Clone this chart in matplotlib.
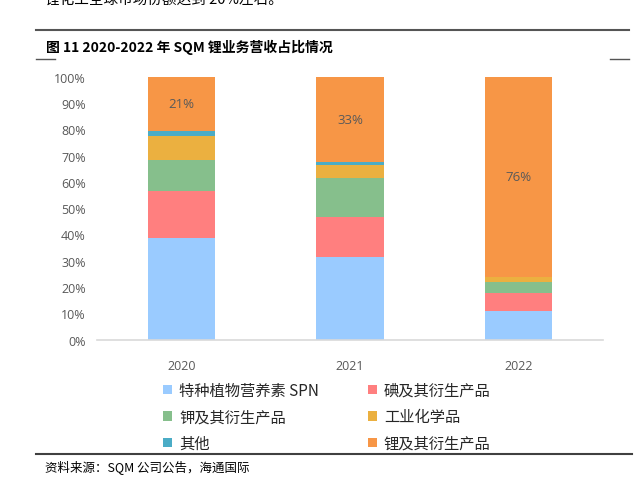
import matplotlib
matplotlib.use("Agg")
import matplotlib.pyplot as plt
from matplotlib.patches import Patch
from matplotlib.lines import Line2D

plt.rcParams['font.family'] = ['Noto Sans CJK SC', 'DejaVu Sans']

years = ["2020", "2021", "2022"]
series_names = ["特种植物营养素 SPN", "碘及其衍生产品", "钾及其衍生产品",
                "工业化学品", "其他", "锂及其衍生产品"]
spn = [38.6, 31.6, 10.9]
iodine = [18.0, 15.1, 7.0]
potassium = [11.8, 14.7, 3.9]
industrial = [9.1, 5.2, 2.2]
other = [1.9, 0.8, 0.0]
lithium = [20.7, 32.7, 76.0]
lithium_labels = ["21%", "33%", "76%"]
yticks = [0, 10, 20, 30, 40, 50, 60, 70, 80, 90, 100]

colors = ["#9ACBFF", "#FF7F7F", "#86BF8C", "#EBB040", "#4BACC6", "#F79646"]
series = [spn, iodine, potassium, industrial, other, lithium]

W, H = 643, 481
fig = plt.figure(figsize=(W / 100, H / 100), dpi=100)

def fx(px):
    return px / W

def fy(py):
    return 1 - py / H

ax = fig.add_axes([fx(97), fy(340.7), fx(603) - fx(97), fy(77.7) - fy(340.7)])
x = list(range(len(years)))
bottom = [0.0] * len(years)
for vals, col, name in zip(series, colors, series_names):
    ax.bar(x, vals, width=0.40, bottom=bottom, color=col, label=name,
           edgecolor='none', zorder=2)
    bottom = [bt + v for bt, v in zip(bottom, vals)]

for i, lab in enumerate(lithium_labels):
    base = sum(s[i] for s in series[:-1])
    ax.text(x[i], base + lithium[i] / 2, lab, ha='center', va='center',
            fontsize=9.5, color='#595959', family=['Open Sans', 'DejaVu Sans'])

ax.set_xlim(-0.5, 2.5)
ax.set_ylim(0, 100)
ax.set_yticks(yticks)
ax.set_yticklabels([f"{t}%" for t in yticks], family=['Open Sans', 'DejaVu Sans'])
ax.set_xticks(x)
ax.set_xticklabels(years, family=['Open Sans', 'DejaVu Sans'])
ax.tick_params(axis='both', length=0, labelsize=9, colors='#595959')
ax.tick_params(axis='y', pad=8)
ax.tick_params(axis='x', pad=14)
for s in ['top', 'right', 'left']:
    ax.spines[s].set_visible(False)
ax.spines['bottom'].set_color('#D9D9D9')
ax.spines['bottom'].set_linewidth(1.2)

# legend: column-major order
order = [0, 2, 4, 1, 3, 5]
handles = [Patch(facecolor=colors[i], edgecolor='none') for i in order]
labels = [series_names[i] for i in order]
leg = fig.legend(handles, labels, ncol=2, loc='upper left',
                 bbox_to_anchor=(fx(163), fy(383)), frameon=False,
                 fontsize=11, handlelength=0.6, handleheight=0.6,
                 handletextpad=0.45, columnspacing=3.2, labelspacing=0.62,
                 borderaxespad=0, borderpad=0)
for t in leg.get_texts():
    t.set_color('#262626')

# page decorations
fig.text(fx(45), fy(1), "锂化工全球市场份额达到 20%左右。", fontsize=10.5,
         ha='left', va='center', color='black')
fig.add_artist(Line2D([fx(36), fx(629)], [fy(30.7), fy(30.7)], color='#555555', lw=1.5))
fig.text(fx(46), fy(47), "图 11 2020-2022 年 SQM 锂业务营收占比情况", fontsize=10,
         fontweight='bold', ha='left', va='center', color='black')
fig.add_artist(Line2D([fx(36), fx(55)], [fy(60), fy(60)], color='#555555', lw=1.0))
fig.add_artist(Line2D([fx(610), fx(629)], [fy(60), fy(60)], color='#555555', lw=1.0))
fig.add_artist(Line2D([fx(36), fx(632)], [fy(455), fy(455)], color='#404040', lw=1.5))
fig.text(fx(45), fy(468), "资料来源：SQM 公司公告，海通国际", fontsize=9,
         ha='left', va='center', color='black')

fig.savefig("out.png", dpi=100)
